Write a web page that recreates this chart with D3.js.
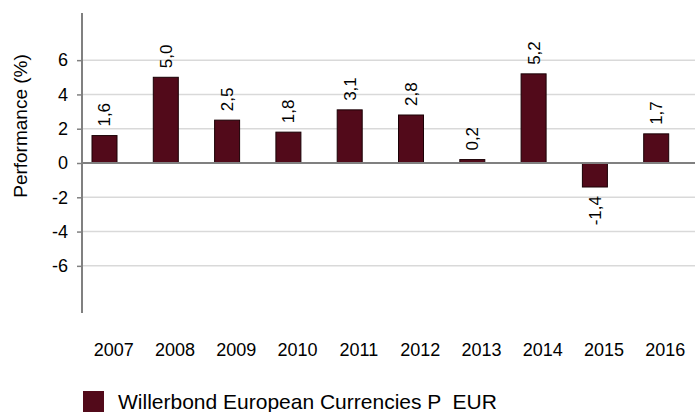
<!DOCTYPE html>
<html lang="en">
<head>
<meta charset="UTF-8">
<title>Performance</title>
<script src="https://cdn.jsdelivr.net/npm/d3@7"></script>
<style>
  body { margin: 0; background: #fff; }
  svg { display: block; font-family: "Liberation Sans", Arial, sans-serif; }
</style>
</head>
<body>
<svg width="695" height="412"></svg>
<script>
// data
var years = ["2007","2008","2009","2010","2011","2012","2013","2014","2015","2016"];
var perf = [1.6, 5.0, 2.5, 1.8, 3.1, 2.8, 0.2, 5.2, -1.4, 1.7];
var yTicks = [-6, -4, -2, 0, 2, 4, 6];
var seriesName = "Willerbond European Currencies P  EUR";

var svg = d3.select("svg");
var plot = {left: 82, right: 695, top: 13, bottom: 313};
var barColor = "#520a1a";

var x = d3.scaleBand().domain(years).range([plot.left, plot.right]);
var y = d3.scaleLinear().domain([-8.75, 8.75]).range([plot.bottom, plot.top]);

// grid lines
svg.append("g").selectAll("line")
    .data(yTicks.filter(function(d){ return d !== 0; }))
    .enter().append("line")
    .attr("x1", plot.left).attr("x2", plot.right)
    .attr("y1", function(d){ return y(d); })
    .attr("y2", function(d){ return y(d); })
    .attr("stroke", "#d9d9d9")
    .attr("stroke-width", 1.5);

// y axis
var yAxis = d3.axisLeft(y).tickValues(yTicks).tickSize(5).tickPadding(9)
    .tickFormat(function(d){ return d; });
var gy = svg.append("g")
    .attr("transform", "translate(" + plot.left + ",0)")
    .call(yAxis);
gy.select(".domain").remove();
gy.selectAll(".tick line").attr("stroke", "#808080").attr("stroke-width", 1.5);
gy.selectAll(".tick text").attr("font-size", 18).attr("fill", "#000")
    .attr("font-family", "Liberation Sans, Arial, sans-serif");

svg.append("line")
    .attr("x1", plot.left).attr("x2", plot.left)
    .attr("y1", plot.top).attr("y2", plot.bottom)
    .attr("stroke", "#808080").attr("stroke-width", 2);

svg.append("text")
    .attr("transform", "translate(27,126) rotate(-90)")
    .attr("text-anchor", "middle")
    .attr("font-size", 19)
    .text("Performance (%)");

// bars
var barOffset = 10, barW = 25;
var gs = svg.append("g").selectAll("g")
    .data(perf)
    .enter().append("g");

gs.append("rect")
    .attr("x", function(d, i){ return x(years[i]) + barOffset; })
    .attr("y", function(d){ return y(Math.max(0, d)); })
    .attr("width", barW)
    .attr("height", function(d){ return Math.abs(y(d) - y(0)); })
    .attr("fill", barColor)
    .attr("stroke", "#1a0005")
    .attr("stroke-width", 1);

// zero line
svg.append("line")
    .attr("x1", plot.left).attr("x2", plot.right)
    .attr("y1", y(0)).attr("y2", y(0))
    .attr("stroke", "#808080").attr("stroke-width", 2);

// value labels
gs.append("text")
    .attr("transform", function(d, i){
        var cx = x(years[i]) + barOffset + barW / 2;
        var cy = d >= 0 ? y(d) - 9 : y(d) + 9;
        return "translate(" + cx + "," + cy + ") rotate(-90)";
    })
    .attr("dy", "0.35em")
    .attr("text-anchor", function(d){ return d >= 0 ? "start" : "end"; })
    .attr("font-size", 17)
    .text(function(d){ return d.toFixed(1).replace(".", ","); });

// year labels
svg.append("g").selectAll("text")
    .data(years)
    .enter().append("text")
    .attr("x", function(d){ return x(d) + x.bandwidth() / 2 + 1; })
    .attr("y", 356)
    .attr("text-anchor", "middle")
    .attr("font-size", 18)
    .text(function(d){ return d; });

// legend
svg.append("rect")
    .attr("x", 83).attr("y", 391)
    .attr("width", 21).attr("height", 21)
    .attr("fill", barColor);
svg.append("text")
    .attr("x", 118).attr("y", 409)
    .attr("font-size", 21)
    .style("white-space", "pre")
    .text(seriesName);
</script>
</body>
</html>
